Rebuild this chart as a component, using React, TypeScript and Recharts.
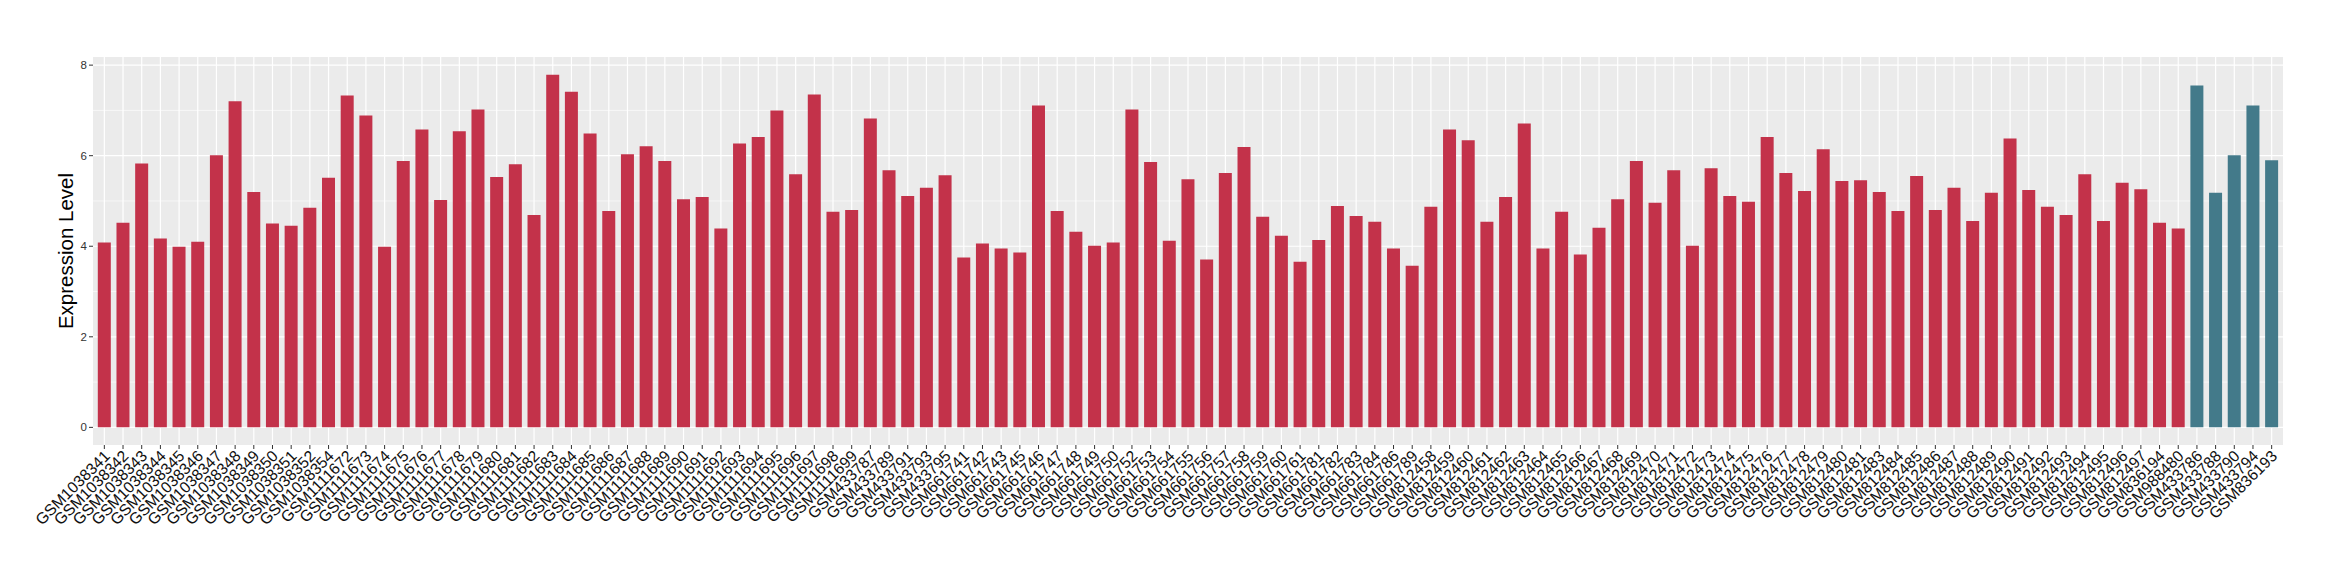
import React from 'react';
import { BarChart, Bar, Cell, XAxis, YAxis, CartesianGrid } from 'recharts';

// sample ids along the x axis, in plotted order
const sampleIds = [
  'GSM1038341', 'GSM1038342', 'GSM1038343', 'GSM1038344', 'GSM1038345', 'GSM1038346', 'GSM1038347',
  'GSM1038348', 'GSM1038349', 'GSM1038350', 'GSM1038351', 'GSM1038352', 'GSM1038354',
  'GSM1111672', 'GSM1111673', 'GSM1111674', 'GSM1111675', 'GSM1111676', 'GSM1111677', 'GSM1111678',
  'GSM1111679', 'GSM1111680', 'GSM1111681', 'GSM1111682', 'GSM1111683', 'GSM1111684', 'GSM1111685',
  'GSM1111686', 'GSM1111687', 'GSM1111688', 'GSM1111689', 'GSM1111690', 'GSM1111691', 'GSM1111692',
  'GSM1111693', 'GSM1111694', 'GSM1111695', 'GSM1111696', 'GSM1111697', 'GSM1111698', 'GSM1111699',
  'GSM433787', 'GSM433789', 'GSM433791', 'GSM433793', 'GSM433795',
  'GSM661741', 'GSM661742', 'GSM661743', 'GSM661745', 'GSM661746', 'GSM661747', 'GSM661748',
  'GSM661749', 'GSM661750', 'GSM661752', 'GSM661753', 'GSM661754', 'GSM661755', 'GSM661756',
  'GSM661757', 'GSM661758', 'GSM661759', 'GSM661760', 'GSM661761', 'GSM661781', 'GSM661782',
  'GSM661783', 'GSM661784', 'GSM661786', 'GSM661789',
  'GSM812458', 'GSM812459', 'GSM812460', 'GSM812461', 'GSM812462', 'GSM812463', 'GSM812464',
  'GSM812465', 'GSM812466', 'GSM812467', 'GSM812468', 'GSM812469', 'GSM812470', 'GSM812471',
  'GSM812472', 'GSM812473', 'GSM812474', 'GSM812475', 'GSM812476', 'GSM812477', 'GSM812478',
  'GSM812479', 'GSM812480', 'GSM812481', 'GSM812483', 'GSM812484', 'GSM812485', 'GSM812486',
  'GSM812487', 'GSM812488', 'GSM812489', 'GSM812490', 'GSM812491', 'GSM812492', 'GSM812493',
  'GSM812494', 'GSM812495', 'GSM812496', 'GSM812497', 'GSM836194', 'GSM988480',
  'GSM433786', 'GSM433788', 'GSM433790', 'GSM433794', 'GSM836193',
];

// expression level per sample (same order as sampleIds)
const expression = [
  4.08, 4.52, 5.83, 4.17, 3.99, 4.10, 6.01, 7.20, 5.20, 4.50, 4.45, 4.85, 5.51,
  7.33, 6.89, 3.99, 5.88, 6.58, 5.02, 6.54, 7.02, 5.53, 5.81, 4.69, 7.79, 7.41, 6.49,
  4.78, 6.03, 6.21, 5.88, 5.04, 5.09, 4.39, 6.27, 6.41, 7.00, 5.59, 7.35, 4.76, 4.80,
  6.82, 5.68, 5.11, 5.29, 5.57,
  3.75, 4.06, 3.95, 3.86, 7.11, 4.78, 4.32, 4.01, 4.08, 7.02, 5.86, 4.12, 5.48, 3.71,
  5.62, 6.19, 4.65, 4.23, 3.66, 4.14, 4.89, 4.67, 4.54, 3.95, 3.57,
  4.87, 6.58, 6.34, 4.54, 5.09, 6.71, 3.95, 4.76, 3.82, 4.41, 5.04, 5.88, 4.96, 5.68,
  4.01, 5.72, 5.11, 4.98, 6.41, 5.62, 5.22, 6.14, 5.44, 5.46, 5.20, 4.78, 5.55, 4.80,
  5.29, 4.56, 5.18, 6.38, 5.24, 4.87, 4.69, 5.59, 4.56, 5.40, 5.26, 4.52, 4.39,
  7.55, 5.18, 6.01, 7.11, 5.90,
];

// samples drawn in the second colour
const highlighted = ['GSM433786', 'GSM433788', 'GSM433790', 'GSM433794', 'GSM836193'];

const majorTicks = [0, 2, 4, 6, 8];
const minorTicks = [1, 3, 5, 7];

const RED = '#C3324A';
const BLUE = '#437A8A';
const FONT = '"Liberation Sans", Arial, Helvetica, sans-serif';

const data = sampleIds.map((id, i) => ({ name: id, value: expression[i] }));

const maxVal = Math.max(...expression);
const yDomain = [-0.05 * maxVal, 1.05 * maxVal];

const XTick = (props: any) => {
  const { x, y, payload } = props;
  return (
    <g transform={`translate(${x + 6.5},${y + 6})`}>
      <text
        x={0}
        y={0}
        textAnchor="end"
        transform="rotate(-45)"
        fontSize={15.8}
        fontFamily={FONT}
        fill="#111"
      >
        {payload.value}
      </text>
    </g>
  );
};

const YLabel = (props: any) => {
  const vb = props.viewBox || {};
  const cx = (vb.x || 0) + 73;
  const cy = (vb.y || 0) + (vb.height || 0) / 2;
  return (
    <text
      x={cx}
      y={cy}
      transform={`rotate(-90 ${cx} ${cy})`}
      textAnchor="middle"
      fontSize={20.5}
      fontFamily={FONT}
      fill="#000"
    >
      Expression Level
    </text>
  );
};

const App: React.FC = () => {
  return (
    <div style={{ position: 'absolute', left: 0, top: 0, background: '#fff' }}>
      <BarChart
        width={2340}
        height={580}
        data={data}
        margin={{ top: 57, right: 57, bottom: 0, left: 0 }}
        barCategoryGap="15%"
      >
        <CartesianGrid
          fill="#EBEBEB"
          fillOpacity={1}
          stroke="#FFFFFF"
          strokeWidth={0.6}
          vertical={false}
          horizontalValues={minorTicks}
        />
        <CartesianGrid
          stroke="#FFFFFF"
          strokeWidth={1.2}
          horizontalValues={majorTicks}
          verticalValues={sampleIds}
        />
        <XAxis
          dataKey="name"
          interval={0}
          height={135}
          axisLine={false}
          tickSize={4}
          tickMargin={2}
          tickLine={{ stroke: '#333333' }}
          padding={{ left: 2, right: 2 }}
          tick={<XTick />}
        />
        <YAxis
          type="number"
          domain={yDomain}
          allowDataOverflow
          ticks={majorTicks}
          width={93}
          axisLine={false}
          tickSize={4}
          tickMargin={2}
          tickLine={{ stroke: '#333333' }}
          tick={{ fontSize: 11.5, fontFamily: FONT, fill: '#333333' }}
          label={<YLabel />}
        />
        <Bar dataKey="value" isAnimationActive={false}>
          {data.map((d, i) => (
            <Cell key={`c-${i}`} fill={highlighted.includes(d.name) ? BLUE : RED} />
          ))}
        </Bar>
      </BarChart>
    </div>
  );
};

export default App;
